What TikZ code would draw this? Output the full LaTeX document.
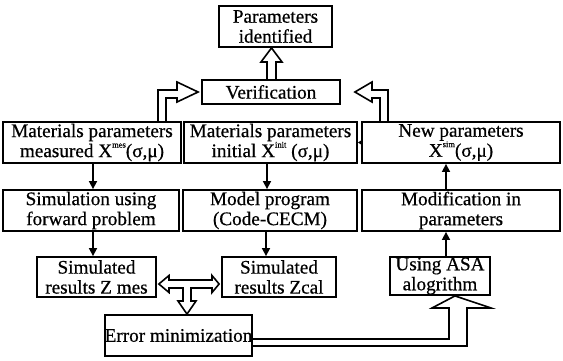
\documentclass[tikz,border=0pt]{standalone}
\usepackage{fontspec}
\setmainfont{Liberation Serif}[UprightFeatures={FakeBold=0.6}]
\usetikzlibrary{arrows.meta,calc}
\newcommand\fs{\fontsize{19.2}{20}\selectfont}
\newcommand\supx[1]{\raisebox{0.5em}{\fontsize{8.5}{8.5}\selectfont #1}}
\begin{document}
\begin{tikzpicture}[x=1pt,y=-1pt,
  box/.style={draw, line width=1.8pt, inner sep=0pt, align=center, font=\fs},
  hol/.style={draw, line width=1.6pt, line join=miter},
  arr/.style={line width=1.6pt, -{Triangle[length=8pt,width=8pt]}}]
\useasboundingbox (0,0) rectangle (563,360);
% boxes
\node[box, minimum width=113pt, minimum height=41pt] (param) at (275.5,26.5) {Parameters\\identified};
\node[box, minimum width=138pt, minimum height=24pt] (ver) at (271,92) {Verification};
\node[box, minimum width=178pt, minimum height=41pt] (r1L) at (92,142.5) {Materials parameters\\measured X\supx{mes}(σ,μ)};
\node[box, minimum width=173pt, minimum height=41pt] (r1M) at (270.5,142.5) {Materials parameters\\initial X\supx{init} (σ,μ)};
\node[box, minimum width=198pt, minimum height=41pt] (r1R) at (461,142.5) {New parameters\\X\supx{sim}(σ,μ)};
\node[box, minimum width=176pt, minimum height=41pt] (r2L) at (91,210.5) {Simulation using\\forward problem};
\node[box, minimum width=174pt, minimum height=41pt] (r2M) at (270,210.5) {Model program\\(Code-CECM)};
\node[box, minimum width=198pt, minimum height=41pt] (r2R) at (461,210.5) {Modification in\\parameters};
\node[box, minimum width=119pt, minimum height=40pt] (zmes) at (96.5,277) {Simulated\\results Z mes};
\node[box, minimum width=114pt, minimum height=40pt] (zcal) at (279,277) {Simulated\\results Zcal};
\node[box, minimum width=100pt, minimum height=38pt] (asa) at (440,276) {Using ASA\\alogrithm};
\node[box, minimum width=141pt, minimum height=41pt] (err) at (178.5,335.5) {Error minimization};
% thin arrows
\draw[arr] (r1L.south -| 93,0) -- (r2L.north -| 93,0);
\draw[arr] (r2L.south -| 93,0) -- (zmes.north -| 93,0);
\draw[arr] (r1M.south -| 267,0) -- (r2M.north -| 267,0);
\draw[arr] (r2M.south -| 266,0) -- (zcal.north -| 266,0);
\draw[arr] (asa.north -| 446,0) -- (r2R.south -| 446,0);
\draw[arr] (r2R.north -| 446,0) -- (r1R.south -| 446,0);
\draw[line width=1pt, -{Triangle[length=5pt,width=6pt]}] (r1R.west) -- (r1M.east);
% hollow arrow verification -> parameters identified
\draw[hol] (267,0 |- ver.north) -- (267,62) -- (261,62) -- (271.5,0 |- param.south)
  -- (282,62) -- (276,62) -- (276,0 |- ver.north);
% left elbow
\draw[hol] (158,0 |- r1L.north) -- (158,90) -- (177,90) -- (177,82)
  -- ($(ver.west)+(-3,0)$) -- (177,102) -- (177,98) -- (166,98) -- (166,0 |- r1L.north);
% right elbow
\draw[hol] (388,0 |- r1R.north) -- (388,90) -- (372,90) -- (372,82)
  -- ($(ver.east)+(14,0)$) -- (372,102) -- (372,98) -- (380,98) -- (380,0 |- r1R.north);
% double arrow with T
\draw[hol] ($(zmes.east|-0,284)+(2,0)$) -- (169,275.5) -- (169,280) -- (212,280) -- (212,275.5)
  -- ($(zcal.west|-0,284)+(-2,0)$) -- (212,292.5) -- (212,288) -- (191,288) -- (191,301)
  -- (196,301) -- (187,0 |- err.north) -- (178,301) -- (183,301) -- (183,288)
  -- (169,288) -- (169,292.5) -- cycle;
% error -> ASA
\draw[hol] (err.east |- 0,339) -- (449,339) -- (449,308) -- (432,308) -- (455,0 |- asa.south)
  -- (491,308) -- (467,308) -- (467,346) -- (err.east |- 0,346);
\end{tikzpicture}
\end{document}
